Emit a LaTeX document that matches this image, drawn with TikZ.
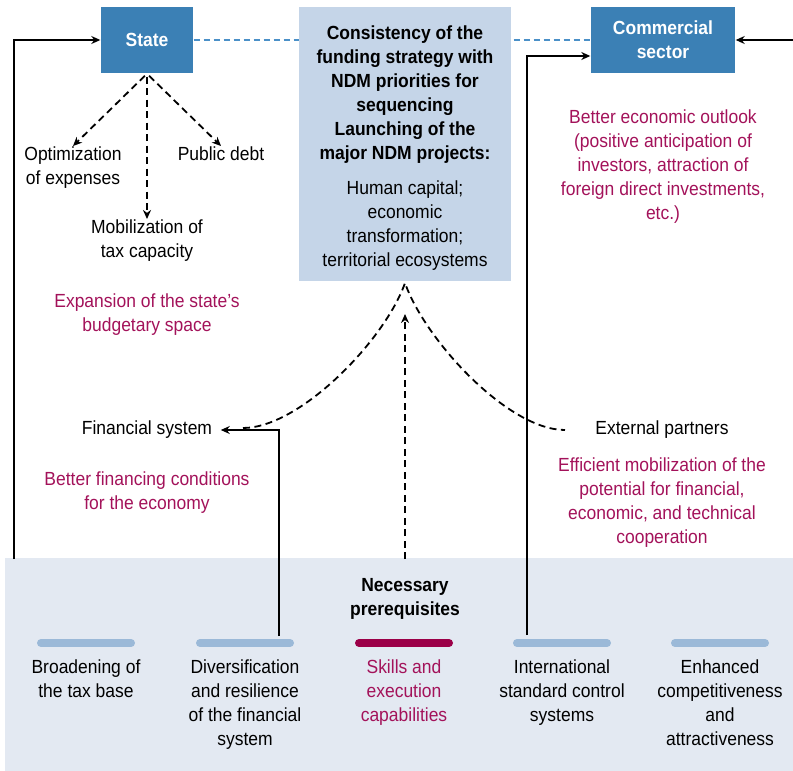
\documentclass[tikz,border=0pt]{standalone}
\usepackage{fontspec}
\setmainfont{Liberation Sans}[FakeStretch=0.92]
\usetikzlibrary{arrows.meta}

\definecolor{stateblue}{RGB}{59,128,181}
\definecolor{dashblue}{RGB}{74,144,200}
\definecolor{ndmfill}{RGB}{197,213,232}
\definecolor{bandfill}{RGB}{227,233,242}
\definecolor{barblue}{RGB}{155,185,216}
\definecolor{barred}{RGB}{155,0,72}
\definecolor{notered}{RGB}{163,18,90}

\begin{document}
\begin{tikzpicture}[x=1pt, y=-1pt, line width=1.4pt,
  txt/.style={align=center, inner sep=0pt, anchor=north, font=\fontsize{19}{24}\selectfont},
  note/.style={txt, text=notered},
  actor/.style={fill=stateblue, text=white, align=center, inner sep=0pt,
    font=\fontsize{19}{24}\selectfont\bfseries},
  arr/.style={-{Stealth[length=9pt,width=8pt]}},
  dsh/.style={line width=1.8pt, dash pattern=on 7pt off 4.5pt},
  darr/.style={arr, dsh},
  bar/.style={line width=8pt, line cap=round, draw=barblue}]
  \useasboundingbox (0,0) rectangle (793,771);

  % bottom band
  \fill[bandfill] (5,558) rectangle (793,771);

  % the two actors, joined by a blue dashed line behind the middle box
  \node[actor, minimum width=92pt, minimum height=66pt] (state) at (147,40) {State};
  \node[actor, minimum width=144pt, minimum height=66pt] (commercial) at (663,40) {Commercial\\sector};
  \draw[dashblue, line width=1.4pt, dash pattern=on 6pt off 4pt] (state.east) -- (commercial.west);

  % middle box (text set on its own so that it sits like the original)
  \node[fill=ndmfill, minimum width=212pt, minimum height=274pt] (ndm) at (405,144) {};
  \node[txt, font=\fontsize{19}{24}\selectfont\bfseries] (ndmtext) at (405,25)
    {Consistency of the\\funding strategy with\\NDM priorities for\\sequencing\\Launching of the\\major NDM projects:\\[11pt]
     \mdseries Human capital;\\\mdseries economic\\\mdseries transformation;\\\mdseries territorial ecosystems};

  % State side
  \node[txt] (optim) at (73,146) {Optimization\\of expenses};
  \node[txt] (debt) at (221,146) {Public debt};
  \node[txt] (mobil) at (147,219) {Mobilization of\\tax capacity};
  \draw[darr, shorten <=3pt] (state.south) -- (optim.north);
  \draw[darr, shorten <=3pt] (state.south) -- (mobil.north);
  \draw[darr, shorten <=3pt] (state.south) -- (debt.north);
  \node[note] (budget) at (147,293) {Expansion of the state’s\\budgetary space};

  % Commercial side
  \node[note] (outlook) at (663,109) {Better economic outlook\\(positive anticipation of\\investors, attraction of\\foreign direct investments,\\etc.)};

  % financial system and external partners
  \node[txt, anchor=center] (finsys) at (147,430) {Financial system};
  \node[note] (fincond) at (147,471) {Better financing conditions\\for the economy};
  \node[txt, anchor=center] (extpart) at (662,430) {External partners};
  \node[note] (coop) at (662,457) {Efficient mobilization of the\\potential for financial,\\economic, and technical\\cooperation};

  % prerequisites
  \node[txt, font=\fontsize{19}{24}\selectfont\bfseries] (needs) at (405,578) {Necessary\\prerequisites};
  \foreach \x in {86,245,562,720}
    \draw[bar] ({\x-45},643) -- ({\x+45},643);
  \draw[bar, draw=barred] (359,643) -- (449,643);
  \node[txt] (taxbase) at (86,659) {Broadening of\\the tax base};
  \node[txt] (divers) at (245,659) {Diversification\\and resilience\\of the financial\\system};
  \node[note] (skills) at (404,659) {Skills and\\execution\\capabilities};
  \node[txt] (intl) at (562,659) {International\\standard control\\systems};
  \node[txt] (compet) at (720,659) {Enhanced\\competitiveness\\and\\attractiveness};

  % loops
  \coordinate (leftfoot) at (14,559);
  \coordinate (rightin) at (793,40);
  \coordinate (divtop) at (279,636);
  \coordinate (intltop) at (527,635);
  \draw[arr] (leftfoot) |- (state.west);
  \draw[arr] (rightin) -- (commercial.east);
  \draw[arr] (intltop) |- ([yshift=-16pt]commercial.west);
  \draw[arr] (divtop) |- ([xshift=8pt]finsys.east);

  % dashed curves meeting under the middle box
  \coordinate (cusp) at (405,283);
  \coordinate (finfoot) at (243,428);
  \coordinate (extfoot) at (565,430);
  \coordinate (skillsfoot) at (405,559);
  \coordinate (ndmtip) at (405,314);
  \draw[dsh] (finfoot) .. controls (300,428) and (385,340) .. (cusp)
    .. controls (425,340) and (508,430) .. (extfoot);
  \draw[darr] (skillsfoot) -- (ndmtip);
\end{tikzpicture}
\end{document}
